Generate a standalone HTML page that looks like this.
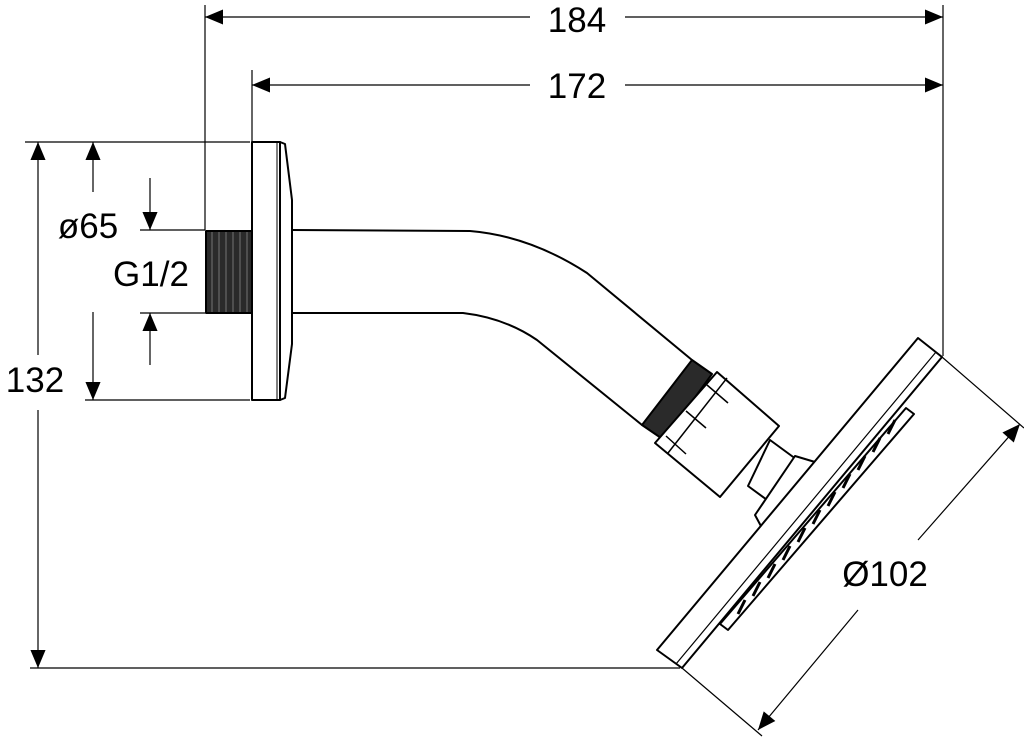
<!DOCTYPE html>
<html><head><style>body{margin:0;background:#fff}svg{display:block}</style></head><body>
<svg width="1024" height="738" viewBox="0 0 1024 738" xmlns="http://www.w3.org/2000/svg" font-family="Liberation Sans, sans-serif">
<defs>
<marker id="a" viewBox="0 0 10 10" refX="10" refY="5" markerWidth="40" markerHeight="18" markerUnits="userSpaceOnUse" orient="auto-start-reverse"><path d="M0,0.8 L10,5 L0,9.2 Z" fill="#000"/></marker>
</defs>
<g stroke="#000" stroke-width="1.2" fill="none">
<line x1="205" y1="5" x2="205" y2="230"/>
<line x1="943" y1="5" x2="943" y2="356"/>
<line x1="252" y1="70" x2="252" y2="142"/>
<line x1="25" y1="142" x2="250" y2="142"/>
<line x1="30" y1="668" x2="680" y2="668"/>
<line x1="85" y1="400" x2="250" y2="400"/>
<line x1="140" y1="230" x2="205" y2="230"/>
<line x1="140" y1="313" x2="205" y2="313"/>
<line x1="942" y1="357" x2="1024" y2="428"/>
<line x1="682" y1="668" x2="762" y2="736"/>
<line x1="205" y1="17" x2="530" y2="17" marker-start="url(#a)"/>
<line x1="625" y1="17" x2="943" y2="17" marker-end="url(#a)"/>
<line x1="252" y1="85" x2="530" y2="85" marker-start="url(#a)"/>
<line x1="625" y1="85" x2="943" y2="85" marker-end="url(#a)"/>
<line x1="38" y1="142" x2="38" y2="355" marker-start="url(#a)"/>
<line x1="38" y1="410" x2="38" y2="668" marker-end="url(#a)"/>
<line x1="93" y1="142" x2="93" y2="192" marker-start="url(#a)"/>
<line x1="93" y1="400" x2="93" y2="312" marker-start="url(#a)"/>
<line x1="150" y1="178" x2="150" y2="230" marker-end="url(#a)"/>
<line x1="150" y1="365" x2="150" y2="313" marker-end="url(#a)"/>
<line x1="1020" y1="424" x2="918" y2="540" marker-start="url(#a)"/>
<line x1="858" y1="610" x2="758" y2="730" marker-end="url(#a)"/>
</g>
<g font-size="35" fill="#000" text-anchor="middle">
<text x="577" y="32">184</text>
<text x="577" y="98">172</text>
<text x="35" y="392">132</text>
<text x="88" y="238">ø65</text>
<text x="151" y="286">G1/2</text>
<text x="885" y="586">Ø102</text>
</g>
<g stroke="#000" stroke-width="2" fill="#fff" stroke-linejoin="round">
<rect x="206" y="231" width="46" height="82" fill="#2a2a2a" stroke="#000"/>
<g stroke="#888" stroke-width="0.8">
<line x1="212" y1="232" x2="212" y2="312"/><line x1="219" y1="232" x2="219" y2="312"/><line x1="226" y1="232" x2="226" y2="312"/><line x1="233" y1="232" x2="233" y2="312"/><line x1="240" y1="232" x2="240" y2="312"/><line x1="247" y1="232" x2="247" y2="312"/>
</g>
<polygon points="280,142 285,144 292,200 292,344 285,398 280,400"/>
<rect x="252" y="142" width="28" height="258"/>
<line x1="277" y1="143" x2="277" y2="399" stroke-width="1"/>
<path d="M292,230 L470,231 Q530,236 587,273 L692,360" fill="none"/>
<path d="M292,313 L463,313 Q505,318 537,340 L642,425" fill="none"/>
<polygon points="692,360 712,374 664,440 642,425" fill="#2a2a2a"/>
<polygon points="717,372 779,426 720,497 655,443"/>
<line x1="707" y1="385" x2="728" y2="403" stroke-width="1.5"/>
<line x1="686" y1="411" x2="706" y2="428" stroke-width="1.5"/>
<line x1="666" y1="436" x2="686" y2="454" stroke-width="1.5"/>
<line x1="727" y1="378" x2="668" y2="453" stroke-width="1.5"/>
<polygon points="770,440 800,462 778,508 748,486"/>
<polygon points="795,456 815,462 762,528 755,515"/>
<polygon points="918,338 942,357 682,668 657,650"/>
<line x1="936" y1="352" x2="676" y2="664" stroke-width="1.2"/>
<polygon points="906,408 914,414 728,630 720,624"/>
<g stroke-width="3">
<line x1="895" y1="420" x2="888" y2="434"/><line x1="880" y1="438" x2="873" y2="452"/><line x1="865" y1="456" x2="858" y2="470"/><line x1="850" y1="474" x2="843" y2="488"/><line x1="835" y1="492" x2="828" y2="506"/><line x1="820" y1="510" x2="813" y2="524"/><line x1="805" y1="528" x2="798" y2="542"/><line x1="790" y1="546" x2="783" y2="560"/><line x1="775" y1="564" x2="768" y2="578"/><line x1="760" y1="582" x2="753" y2="596"/><line x1="745" y1="600" x2="738" y2="614"/>
</g>
</g>
</svg>
</body></html>
